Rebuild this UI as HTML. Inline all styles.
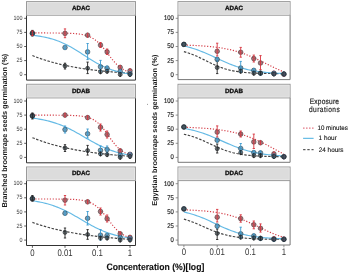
<!DOCTYPE html>
<html><head><meta charset="utf-8"><style>
html,body{margin:0;padding:0;background:#fff;}
body{width:350px;height:273px;overflow:hidden;position:relative;}
svg{position:absolute;left:0;top:0;}
svg text{font-family:"Liberation Sans", sans-serif;text-rendering:geometricPrecision;}
svg{will-change:transform;}
</style></head><body>
<svg width="350" height="273" viewBox="0 0 350 273">
<path d="M26.50,15.20 L26.50,80.10 L135.50,80.10 L135.50,15.20" fill="#ffffff" stroke="#333333" stroke-width="1"/>
<rect x="26.50" y="1.60" width="109.00" height="13.60" fill="#dcdcdc" stroke="#9a9a9a" stroke-width="1"/>
<rect x="27.40" y="2.50" width="107.20" height="11.80" fill="none" stroke="#e8e8e8" stroke-width="0.7"/>
<line x1="24.20" y1="18.30" x2="26.50" y2="18.30" stroke="#333333" stroke-width="0.8"/>
<text transform="translate(22.40,19.94) scale(1.0,1.15)" font-size="5.4" font-weight="normal" fill="#333333" stroke="#333333" stroke-width="0.0" text-anchor="end">100</text>
<line x1="24.20" y1="32.40" x2="26.50" y2="32.40" stroke="#333333" stroke-width="0.8"/>
<text transform="translate(22.40,34.04) scale(1.0,1.15)" font-size="5.4" font-weight="normal" fill="#333333" stroke="#333333" stroke-width="0.0" text-anchor="end">75</text>
<line x1="24.20" y1="46.50" x2="26.50" y2="46.50" stroke="#333333" stroke-width="0.8"/>
<text transform="translate(22.40,48.14) scale(1.0,1.15)" font-size="5.4" font-weight="normal" fill="#333333" stroke="#333333" stroke-width="0.0" text-anchor="end">50</text>
<line x1="24.20" y1="60.60" x2="26.50" y2="60.60" stroke="#333333" stroke-width="0.8"/>
<text transform="translate(22.40,62.24) scale(1.0,1.15)" font-size="5.4" font-weight="normal" fill="#333333" stroke="#333333" stroke-width="0.0" text-anchor="end">25</text>
<line x1="24.20" y1="74.70" x2="26.50" y2="74.70" stroke="#333333" stroke-width="0.8"/>
<text transform="translate(22.40,76.34) scale(1.0,1.15)" font-size="5.4" font-weight="normal" fill="#333333" stroke="#333333" stroke-width="0.0" text-anchor="end">0</text>
<path d="M32.40,55.53 L34.05,56.19 L35.71,56.84 L37.36,57.46 L39.02,58.07 L40.67,58.65 L42.33,59.22 L43.98,59.76 L45.63,60.29 L47.29,60.81 L48.94,61.30 L50.60,61.78 L52.25,62.25 L53.91,62.70 L55.56,63.13 L57.21,63.55 L58.87,63.96 L60.52,64.35 L62.18,64.73 L63.83,65.10 L65.48,65.46 L67.14,65.81 L68.79,66.14 L70.45,66.47 L72.10,66.78 L73.76,67.08 L75.41,67.38 L77.06,67.66 L78.72,67.93 L80.37,68.20 L82.03,68.46 L83.68,68.71 L85.34,68.95 L86.99,69.18 L88.64,69.41 L90.30,69.62 L91.95,69.84 L93.61,70.04 L95.26,70.24 L96.92,70.43 L98.57,70.61 L100.22,70.79 L101.88,70.97 L103.53,71.14 L105.19,71.30 L106.84,71.46 L108.49,71.61 L110.15,71.76 L111.80,71.90 L113.46,72.04 L115.11,72.17 L116.77,72.30 L118.42,72.42 L120.07,72.54 L121.73,72.66 L123.38,72.77 L125.04,72.88 L126.69,72.99 L128.35,73.09 L130.00,73.19" stroke="#444444" stroke-width="1.15" stroke-dasharray="2.5 1.5" fill="none"/>
<path d="M32.40,35.30 L34.05,35.48 L35.71,35.68 L37.36,35.91 L39.02,36.15 L40.67,36.41 L42.33,36.70 L43.98,37.02 L45.63,37.36 L47.29,37.73 L48.94,38.13 L50.60,38.57 L52.25,39.04 L53.91,39.54 L55.56,40.08 L57.21,40.67 L58.87,41.29 L60.52,41.95 L62.18,42.66 L63.83,43.40 L65.48,44.19 L67.14,45.02 L68.79,45.89 L70.45,46.79 L72.10,47.73 L73.76,48.70 L75.41,49.70 L77.06,50.73 L78.72,51.78 L80.37,52.84 L82.03,53.91 L83.68,54.99 L85.34,56.06 L86.99,57.13 L88.64,58.19 L90.30,59.24 L91.95,60.26 L93.61,61.26 L95.26,62.23 L96.92,63.17 L98.57,64.07 L100.22,64.94 L101.88,65.76 L103.53,66.55 L105.19,67.29 L106.84,67.99 L108.49,68.65 L110.15,69.27 L111.80,69.85 L113.46,70.39 L115.11,70.89 L116.77,71.36 L118.42,71.79 L120.07,72.19 L121.73,72.56 L123.38,72.90 L125.04,73.21 L126.69,73.50 L128.35,73.76 L130.00,74.00" stroke="#4aaee0" stroke-width="1.15" stroke-opacity="0.85" fill="none"/>
<path d="M32.40,32.96 L34.05,32.96 L35.71,32.96 L37.36,32.96 L39.02,32.96 L40.67,32.97 L42.33,32.97 L43.98,32.97 L45.63,32.97 L47.29,32.98 L48.94,32.98 L50.60,32.99 L52.25,32.99 L53.91,33.00 L55.56,33.01 L57.21,33.03 L58.87,33.04 L60.52,33.06 L62.18,33.08 L63.83,33.11 L65.48,33.15 L67.14,33.19 L68.79,33.25 L70.45,33.32 L72.10,33.40 L73.76,33.50 L75.41,33.63 L77.06,33.78 L78.72,33.97 L80.37,34.19 L82.03,34.47 L83.68,34.81 L85.34,35.22 L86.99,35.71 L88.64,36.30 L90.30,37.01 L91.95,37.84 L93.61,38.82 L95.26,39.96 L96.92,41.27 L98.57,42.76 L100.22,44.41 L101.88,46.24 L103.53,48.20 L105.19,50.28 L106.84,52.44 L108.49,54.62 L110.15,56.79 L111.80,58.89 L113.46,60.89 L115.11,62.75 L116.77,64.45 L118.42,65.98 L120.07,67.34 L121.73,68.52 L123.38,69.54 L125.04,70.41 L126.69,71.15 L128.35,71.77 L130.00,72.28" stroke="#d4404a" stroke-width="1.2" stroke-dasharray="1.2 1.7" fill="none"/>
<circle cx="32.40" cy="33.00" r="2.3" fill="#925058" fill-opacity="0.8" stroke="#4a3a3c" stroke-width="0.7" stroke-opacity="0.85"/>
<circle cx="65.00" cy="33.40" r="2.3" fill="#925058" fill-opacity="0.8" stroke="#4a3a3c" stroke-width="0.7" stroke-opacity="0.85"/>
<circle cx="87.60" cy="35.20" r="2.3" fill="#925058" fill-opacity="0.8" stroke="#4a3a3c" stroke-width="0.7" stroke-opacity="0.85"/>
<circle cx="100.50" cy="45.10" r="2.3" fill="#925058" fill-opacity="0.8" stroke="#4a3a3c" stroke-width="0.7" stroke-opacity="0.85"/>
<circle cx="107.10" cy="51.90" r="2.3" fill="#925058" fill-opacity="0.8" stroke="#4a3a3c" stroke-width="0.7" stroke-opacity="0.85"/>
<circle cx="120.20" cy="67.40" r="2.3" fill="#925058" fill-opacity="0.8" stroke="#4a3a3c" stroke-width="0.7" stroke-opacity="0.85"/>
<circle cx="130.00" cy="70.80" r="2.3" fill="#925058" fill-opacity="0.8" stroke="#4a3a3c" stroke-width="0.7" stroke-opacity="0.85"/>
<circle cx="32.40" cy="33.60" r="2.3" fill="#4a84a8" fill-opacity="0.8" stroke="#283e4a" stroke-width="0.7" stroke-opacity="0.85"/>
<circle cx="65.00" cy="47.50" r="2.3" fill="#4a84a8" fill-opacity="0.8" stroke="#283e4a" stroke-width="0.7" stroke-opacity="0.85"/>
<circle cx="87.60" cy="51.90" r="2.3" fill="#4a84a8" fill-opacity="0.8" stroke="#283e4a" stroke-width="0.7" stroke-opacity="0.85"/>
<circle cx="100.50" cy="66.80" r="2.3" fill="#4a84a8" fill-opacity="0.8" stroke="#283e4a" stroke-width="0.7" stroke-opacity="0.85"/>
<circle cx="107.10" cy="68.20" r="2.3" fill="#4a84a8" fill-opacity="0.8" stroke="#283e4a" stroke-width="0.7" stroke-opacity="0.85"/>
<circle cx="120.20" cy="71.30" r="2.3" fill="#4a84a8" fill-opacity="0.8" stroke="#283e4a" stroke-width="0.7" stroke-opacity="0.85"/>
<circle cx="130.00" cy="73.50" r="2.3" fill="#4a84a8" fill-opacity="0.8" stroke="#283e4a" stroke-width="0.7" stroke-opacity="0.85"/>
<circle cx="32.40" cy="33.30" r="2.0" fill="#3e4a4e" fill-opacity="0.75" stroke="#1e2428" stroke-width="0.7" stroke-opacity="0.85"/>
<circle cx="65.00" cy="65.90" r="2.0" fill="#3e4a4e" fill-opacity="0.75" stroke="#1e2428" stroke-width="0.7" stroke-opacity="0.85"/>
<circle cx="87.60" cy="68.30" r="2.0" fill="#3e4a4e" fill-opacity="0.75" stroke="#1e2428" stroke-width="0.7" stroke-opacity="0.85"/>
<circle cx="100.50" cy="71.70" r="2.0" fill="#3e4a4e" fill-opacity="0.75" stroke="#1e2428" stroke-width="0.7" stroke-opacity="0.85"/>
<circle cx="107.10" cy="71.30" r="2.0" fill="#3e4a4e" fill-opacity="0.75" stroke="#1e2428" stroke-width="0.7" stroke-opacity="0.85"/>
<circle cx="120.20" cy="74.50" r="2.0" fill="#3e4a4e" fill-opacity="0.75" stroke="#1e2428" stroke-width="0.7" stroke-opacity="0.85"/>
<circle cx="130.00" cy="74.50" r="2.0" fill="#3e4a4e" fill-opacity="0.75" stroke="#1e2428" stroke-width="0.7" stroke-opacity="0.85"/>
<g stroke="#222222" stroke-width="0.9"><line x1="65.00" y1="63.20" x2="65.00" y2="69.00"/><line x1="63.85" y1="63.20" x2="66.15" y2="63.20"/><line x1="63.85" y1="69.00" x2="66.15" y2="69.00"/></g>
<g stroke="#d8343e" stroke-width="0.9"><line x1="65.00" y1="28.90" x2="65.00" y2="37.70"/><line x1="63.85" y1="28.90" x2="66.15" y2="28.90"/><line x1="63.85" y1="37.70" x2="66.15" y2="37.70"/></g>
<g stroke="#3a9ad0" stroke-width="0.9"><line x1="87.60" y1="43.50" x2="87.60" y2="59.60"/><line x1="86.45" y1="43.50" x2="88.75" y2="43.50"/><line x1="86.45" y1="59.60" x2="88.75" y2="59.60"/></g>
<g stroke="#222222" stroke-width="0.9"><line x1="87.60" y1="62.10" x2="87.60" y2="73.60"/><line x1="86.45" y1="62.10" x2="88.75" y2="62.10"/><line x1="86.45" y1="73.60" x2="88.75" y2="73.60"/></g>
<g stroke="#3a9ad0" stroke-width="0.9"><line x1="100.50" y1="60.40" x2="100.50" y2="71.00"/><line x1="99.35" y1="60.40" x2="101.65" y2="60.40"/><line x1="99.35" y1="71.00" x2="101.65" y2="71.00"/></g>
<g stroke="#222222" stroke-width="0.9"><line x1="32.40" y1="30.40" x2="32.40" y2="36.00"/><line x1="31.25" y1="30.40" x2="33.55" y2="30.40"/><line x1="31.25" y1="36.00" x2="33.55" y2="36.00"/></g>
<g stroke="#d8343e" stroke-width="0.9"><line x1="100.50" y1="42.50" x2="100.50" y2="47.50"/><line x1="99.35" y1="42.50" x2="101.65" y2="42.50"/><line x1="99.35" y1="47.50" x2="101.65" y2="47.50"/></g>
<g stroke="#d8343e" stroke-width="0.9"><line x1="107.10" y1="49.00" x2="107.10" y2="54.50"/><line x1="105.95" y1="49.00" x2="108.25" y2="49.00"/><line x1="105.95" y1="54.50" x2="108.25" y2="54.50"/></g>
<g stroke="#d8343e" stroke-width="0.9"><line x1="32.40" y1="31.00" x2="32.40" y2="35.50"/><line x1="31.25" y1="31.00" x2="33.55" y2="31.00"/><line x1="31.25" y1="35.50" x2="33.55" y2="35.50"/></g>
<g stroke="#3a9ad0" stroke-width="0.9"><line x1="107.10" y1="66.00" x2="107.10" y2="70.50"/><line x1="105.95" y1="66.00" x2="108.25" y2="66.00"/><line x1="105.95" y1="70.50" x2="108.25" y2="70.50"/></g>
<g stroke="#d8343e" stroke-width="0.9"><line x1="87.60" y1="33.20" x2="87.60" y2="37.20"/><line x1="87.00" y1="33.20" x2="88.20" y2="33.20"/><line x1="87.00" y1="37.20" x2="88.20" y2="37.20"/></g>
<g stroke="#d8343e" stroke-width="0.9"><line x1="120.20" y1="65.40" x2="120.20" y2="69.40"/><line x1="119.60" y1="65.40" x2="120.80" y2="65.40"/><line x1="119.60" y1="69.40" x2="120.80" y2="69.40"/></g>
<g stroke="#d8343e" stroke-width="0.9"><line x1="130.00" y1="68.80" x2="130.00" y2="72.80"/><line x1="129.40" y1="68.80" x2="130.60" y2="68.80"/><line x1="129.40" y1="72.80" x2="130.60" y2="72.80"/></g>
<g stroke="#3a9ad0" stroke-width="0.9"><line x1="65.00" y1="45.50" x2="65.00" y2="49.50"/><line x1="64.40" y1="45.50" x2="65.60" y2="45.50"/><line x1="64.40" y1="49.50" x2="65.60" y2="49.50"/></g>
<g stroke="#3a9ad0" stroke-width="0.9"><line x1="120.20" y1="69.30" x2="120.20" y2="73.30"/><line x1="119.60" y1="69.30" x2="120.80" y2="69.30"/><line x1="119.60" y1="73.30" x2="120.80" y2="73.30"/></g>
<g stroke="#3a9ad0" stroke-width="0.9"><line x1="130.00" y1="71.50" x2="130.00" y2="75.50"/><line x1="129.40" y1="71.50" x2="130.60" y2="71.50"/><line x1="129.40" y1="75.50" x2="130.60" y2="75.50"/></g>
<g stroke="#222222" stroke-width="0.9"><line x1="100.50" y1="69.70" x2="100.50" y2="73.70"/><line x1="99.90" y1="69.70" x2="101.10" y2="69.70"/><line x1="99.90" y1="73.70" x2="101.10" y2="73.70"/></g>
<g stroke="#222222" stroke-width="0.9"><line x1="107.10" y1="69.30" x2="107.10" y2="73.30"/><line x1="106.50" y1="69.30" x2="107.70" y2="69.30"/><line x1="106.50" y1="73.30" x2="107.70" y2="73.30"/></g>
<g stroke="#222222" stroke-width="0.9"><line x1="120.20" y1="72.50" x2="120.20" y2="76.50"/><line x1="119.60" y1="72.50" x2="120.80" y2="72.50"/><line x1="119.60" y1="76.50" x2="120.80" y2="76.50"/></g>
<g stroke="#222222" stroke-width="0.9"><line x1="130.00" y1="72.50" x2="130.00" y2="76.50"/><line x1="129.40" y1="72.50" x2="130.60" y2="72.50"/><line x1="129.40" y1="76.50" x2="130.60" y2="76.50"/></g>
<text transform="translate(81.00,10.40) scale(0.98,0.95)" font-size="6.4" font-weight="bold" fill="#111" stroke="#111" stroke-width="0.3" text-anchor="middle">ADAC</text>
<path d="M26.50,97.90 L26.50,162.80 L135.50,162.80 L135.50,97.90" fill="#ffffff" stroke="#333333" stroke-width="1"/>
<rect x="26.50" y="84.30" width="109.00" height="13.60" fill="#dcdcdc" stroke="#9a9a9a" stroke-width="1"/>
<rect x="27.40" y="85.20" width="107.20" height="11.80" fill="none" stroke="#e8e8e8" stroke-width="0.7"/>
<line x1="24.20" y1="101.00" x2="26.50" y2="101.00" stroke="#333333" stroke-width="0.8"/>
<text transform="translate(22.40,102.64) scale(1.0,1.15)" font-size="5.4" font-weight="normal" fill="#333333" stroke="#333333" stroke-width="0.0" text-anchor="end">100</text>
<line x1="24.20" y1="115.10" x2="26.50" y2="115.10" stroke="#333333" stroke-width="0.8"/>
<text transform="translate(22.40,116.74) scale(1.0,1.15)" font-size="5.4" font-weight="normal" fill="#333333" stroke="#333333" stroke-width="0.0" text-anchor="end">75</text>
<line x1="24.20" y1="129.20" x2="26.50" y2="129.20" stroke="#333333" stroke-width="0.8"/>
<text transform="translate(22.40,130.84) scale(1.0,1.15)" font-size="5.4" font-weight="normal" fill="#333333" stroke="#333333" stroke-width="0.0" text-anchor="end">50</text>
<line x1="24.20" y1="143.30" x2="26.50" y2="143.30" stroke="#333333" stroke-width="0.8"/>
<text transform="translate(22.40,144.94) scale(1.0,1.15)" font-size="5.4" font-weight="normal" fill="#333333" stroke="#333333" stroke-width="0.0" text-anchor="end">25</text>
<line x1="24.20" y1="157.40" x2="26.50" y2="157.40" stroke="#333333" stroke-width="0.8"/>
<text transform="translate(22.40,159.04) scale(1.0,1.15)" font-size="5.4" font-weight="normal" fill="#333333" stroke="#333333" stroke-width="0.0" text-anchor="end">0</text>
<path d="M32.40,137.67 L34.05,138.34 L35.71,138.98 L37.36,139.60 L39.02,140.21 L40.67,140.80 L42.33,141.37 L43.98,141.92 L45.63,142.46 L47.29,142.98 L48.94,143.49 L50.60,143.98 L52.25,144.45 L53.91,144.92 L55.56,145.36 L57.21,145.80 L58.87,146.22 L60.52,146.63 L62.18,147.03 L63.83,147.41 L65.48,147.79 L67.14,148.15 L68.79,148.50 L70.45,148.84 L72.10,149.18 L73.76,149.50 L75.41,149.81 L77.06,150.11 L78.72,150.41 L80.37,150.69 L82.03,150.97 L83.68,151.23 L85.34,151.50 L86.99,151.75 L88.64,151.99 L90.30,152.23 L91.95,152.46 L93.61,152.68 L95.26,152.90 L96.92,153.11 L98.57,153.32 L100.22,153.52 L101.88,153.71 L103.53,153.89 L105.19,154.08 L106.84,154.25 L108.49,154.42 L110.15,154.59 L111.80,154.75 L113.46,154.90 L115.11,155.05 L116.77,155.20 L118.42,155.34 L120.07,155.48 L121.73,155.62 L123.38,155.75 L125.04,155.87 L126.69,155.99 L128.35,156.11 L130.00,156.23" stroke="#444444" stroke-width="1.15" stroke-dasharray="2.5 1.5" fill="none"/>
<path d="M32.40,118.11 L34.05,118.32 L35.71,118.55 L37.36,118.80 L39.02,119.07 L40.67,119.36 L42.33,119.67 L43.98,120.00 L45.63,120.36 L47.29,120.75 L48.94,121.16 L50.60,121.60 L52.25,122.08 L53.91,122.58 L55.56,123.11 L57.21,123.68 L58.87,124.28 L60.52,124.91 L62.18,125.58 L63.83,126.28 L65.48,127.01 L67.14,127.77 L68.79,128.57 L70.45,129.39 L72.10,130.24 L73.76,131.11 L75.41,132.01 L77.06,132.93 L78.72,133.86 L80.37,134.81 L82.03,135.76 L83.68,136.72 L85.34,137.68 L86.99,138.64 L88.64,139.59 L90.30,140.53 L91.95,141.46 L93.61,142.37 L95.26,143.26 L96.92,144.13 L98.57,144.97 L100.22,145.78 L101.88,146.57 L103.53,147.32 L105.19,148.04 L106.84,148.73 L108.49,149.39 L110.15,150.01 L111.80,150.60 L113.46,151.16 L115.11,151.68 L116.77,152.18 L118.42,152.64 L120.07,153.07 L121.73,153.48 L123.38,153.86 L125.04,154.21 L126.69,154.54 L128.35,154.84 L130.00,155.12" stroke="#4aaee0" stroke-width="1.15" stroke-opacity="0.85" fill="none"/>
<path d="M32.40,115.19 L34.05,115.19 L35.71,115.19 L37.36,115.19 L39.02,115.19 L40.67,115.19 L42.33,115.20 L43.98,115.20 L45.63,115.20 L47.29,115.20 L48.94,115.20 L50.60,115.20 L52.25,115.21 L53.91,115.21 L55.56,115.22 L57.21,115.23 L58.87,115.23 L60.52,115.25 L62.18,115.26 L63.83,115.28 L65.48,115.30 L67.14,115.33 L68.79,115.36 L70.45,115.40 L72.10,115.46 L73.76,115.53 L75.41,115.61 L77.06,115.72 L78.72,115.85 L80.37,116.02 L82.03,116.22 L83.68,116.48 L85.34,116.80 L86.99,117.19 L88.64,117.67 L90.30,118.25 L91.95,118.97 L93.61,119.82 L95.26,120.85 L96.92,122.06 L98.57,123.46 L100.22,125.08 L101.88,126.89 L103.53,128.90 L105.19,131.07 L106.84,133.35 L108.49,135.71 L110.15,138.07 L111.80,140.37 L113.46,142.57 L115.11,144.62 L116.77,146.48 L118.42,148.14 L120.07,149.59 L121.73,150.84 L123.38,151.91 L125.04,152.80 L126.69,153.54 L128.35,154.16 L130.00,154.66" stroke="#d4404a" stroke-width="1.2" stroke-dasharray="1.2 1.7" fill="none"/>
<circle cx="32.40" cy="115.50" r="2.3" fill="#925058" fill-opacity="0.8" stroke="#4a3a3c" stroke-width="0.7" stroke-opacity="0.85"/>
<circle cx="65.00" cy="115.10" r="2.3" fill="#925058" fill-opacity="0.8" stroke="#4a3a3c" stroke-width="0.7" stroke-opacity="0.85"/>
<circle cx="87.60" cy="117.60" r="2.3" fill="#925058" fill-opacity="0.8" stroke="#4a3a3c" stroke-width="0.7" stroke-opacity="0.85"/>
<circle cx="100.50" cy="127.30" r="2.3" fill="#925058" fill-opacity="0.8" stroke="#4a3a3c" stroke-width="0.7" stroke-opacity="0.85"/>
<circle cx="107.10" cy="134.50" r="2.3" fill="#925058" fill-opacity="0.8" stroke="#4a3a3c" stroke-width="0.7" stroke-opacity="0.85"/>
<circle cx="120.20" cy="150.80" r="2.3" fill="#925058" fill-opacity="0.8" stroke="#4a3a3c" stroke-width="0.7" stroke-opacity="0.85"/>
<circle cx="130.00" cy="154.40" r="2.3" fill="#925058" fill-opacity="0.8" stroke="#4a3a3c" stroke-width="0.7" stroke-opacity="0.85"/>
<circle cx="32.40" cy="116.00" r="2.3" fill="#4a84a8" fill-opacity="0.8" stroke="#283e4a" stroke-width="0.7" stroke-opacity="0.85"/>
<circle cx="65.00" cy="129.60" r="2.3" fill="#4a84a8" fill-opacity="0.8" stroke="#283e4a" stroke-width="0.7" stroke-opacity="0.85"/>
<circle cx="87.60" cy="133.80" r="2.3" fill="#4a84a8" fill-opacity="0.8" stroke="#283e4a" stroke-width="0.7" stroke-opacity="0.85"/>
<circle cx="100.50" cy="150.30" r="2.3" fill="#4a84a8" fill-opacity="0.8" stroke="#283e4a" stroke-width="0.7" stroke-opacity="0.85"/>
<circle cx="107.10" cy="149.50" r="2.3" fill="#4a84a8" fill-opacity="0.8" stroke="#283e4a" stroke-width="0.7" stroke-opacity="0.85"/>
<circle cx="120.20" cy="155.10" r="2.3" fill="#4a84a8" fill-opacity="0.8" stroke="#283e4a" stroke-width="0.7" stroke-opacity="0.85"/>
<circle cx="130.00" cy="154.60" r="2.3" fill="#4a84a8" fill-opacity="0.8" stroke="#283e4a" stroke-width="0.7" stroke-opacity="0.85"/>
<circle cx="32.40" cy="116.00" r="2.0" fill="#3e4a4e" fill-opacity="0.75" stroke="#1e2428" stroke-width="0.7" stroke-opacity="0.85"/>
<circle cx="65.00" cy="148.00" r="2.0" fill="#3e4a4e" fill-opacity="0.75" stroke="#1e2428" stroke-width="0.7" stroke-opacity="0.85"/>
<circle cx="87.60" cy="150.50" r="2.0" fill="#3e4a4e" fill-opacity="0.75" stroke="#1e2428" stroke-width="0.7" stroke-opacity="0.85"/>
<circle cx="100.50" cy="153.90" r="2.0" fill="#3e4a4e" fill-opacity="0.75" stroke="#1e2428" stroke-width="0.7" stroke-opacity="0.85"/>
<circle cx="107.10" cy="154.60" r="2.0" fill="#3e4a4e" fill-opacity="0.75" stroke="#1e2428" stroke-width="0.7" stroke-opacity="0.85"/>
<circle cx="120.20" cy="157.30" r="2.0" fill="#3e4a4e" fill-opacity="0.75" stroke="#1e2428" stroke-width="0.7" stroke-opacity="0.85"/>
<circle cx="130.00" cy="156.50" r="2.0" fill="#3e4a4e" fill-opacity="0.75" stroke="#1e2428" stroke-width="0.7" stroke-opacity="0.85"/>
<g stroke="#222222" stroke-width="0.9"><line x1="65.00" y1="144.70" x2="65.00" y2="151.50"/><line x1="63.85" y1="144.70" x2="66.15" y2="144.70"/><line x1="63.85" y1="151.50" x2="66.15" y2="151.50"/></g>
<g stroke="#3a9ad0" stroke-width="0.9"><line x1="65.00" y1="126.00" x2="65.00" y2="133.00"/><line x1="63.85" y1="126.00" x2="66.15" y2="126.00"/><line x1="63.85" y1="133.00" x2="66.15" y2="133.00"/></g>
<g stroke="#3a9ad0" stroke-width="0.9"><line x1="87.60" y1="129.00" x2="87.60" y2="138.00"/><line x1="86.45" y1="129.00" x2="88.75" y2="129.00"/><line x1="86.45" y1="138.00" x2="88.75" y2="138.00"/></g>
<g stroke="#222222" stroke-width="0.9"><line x1="87.60" y1="145.40" x2="87.60" y2="155.10"/><line x1="86.45" y1="145.40" x2="88.75" y2="145.40"/><line x1="86.45" y1="155.10" x2="88.75" y2="155.10"/></g>
<g stroke="#3a9ad0" stroke-width="0.9"><line x1="100.50" y1="146.00" x2="100.50" y2="154.00"/><line x1="99.35" y1="146.00" x2="101.65" y2="146.00"/><line x1="99.35" y1="154.00" x2="101.65" y2="154.00"/></g>
<g stroke="#3a9ad0" stroke-width="0.9"><line x1="107.10" y1="146.00" x2="107.10" y2="153.00"/><line x1="105.95" y1="146.00" x2="108.25" y2="146.00"/><line x1="105.95" y1="153.00" x2="108.25" y2="153.00"/></g>
<g stroke="#d8343e" stroke-width="0.9"><line x1="100.50" y1="124.00" x2="100.50" y2="131.00"/><line x1="99.35" y1="124.00" x2="101.65" y2="124.00"/><line x1="99.35" y1="131.00" x2="101.65" y2="131.00"/></g>
<g stroke="#d8343e" stroke-width="0.9"><line x1="107.10" y1="131.00" x2="107.10" y2="138.00"/><line x1="105.95" y1="131.00" x2="108.25" y2="131.00"/><line x1="105.95" y1="138.00" x2="108.25" y2="138.00"/></g>
<g stroke="#222222" stroke-width="0.9"><line x1="32.40" y1="113.00" x2="32.40" y2="119.00"/><line x1="31.25" y1="113.00" x2="33.55" y2="113.00"/><line x1="31.25" y1="119.00" x2="33.55" y2="119.00"/></g>
<g stroke="#d8343e" stroke-width="0.9"><line x1="65.00" y1="113.10" x2="65.00" y2="117.10"/><line x1="64.40" y1="113.10" x2="65.60" y2="113.10"/><line x1="64.40" y1="117.10" x2="65.60" y2="117.10"/></g>
<g stroke="#d8343e" stroke-width="0.9"><line x1="87.60" y1="115.60" x2="87.60" y2="119.60"/><line x1="87.00" y1="115.60" x2="88.20" y2="115.60"/><line x1="87.00" y1="119.60" x2="88.20" y2="119.60"/></g>
<g stroke="#d8343e" stroke-width="0.9"><line x1="120.20" y1="148.80" x2="120.20" y2="152.80"/><line x1="119.60" y1="148.80" x2="120.80" y2="148.80"/><line x1="119.60" y1="152.80" x2="120.80" y2="152.80"/></g>
<g stroke="#d8343e" stroke-width="0.9"><line x1="130.00" y1="152.40" x2="130.00" y2="156.40"/><line x1="129.40" y1="152.40" x2="130.60" y2="152.40"/><line x1="129.40" y1="156.40" x2="130.60" y2="156.40"/></g>
<g stroke="#3a9ad0" stroke-width="0.9"><line x1="120.20" y1="153.10" x2="120.20" y2="157.10"/><line x1="119.60" y1="153.10" x2="120.80" y2="153.10"/><line x1="119.60" y1="157.10" x2="120.80" y2="157.10"/></g>
<g stroke="#3a9ad0" stroke-width="0.9"><line x1="130.00" y1="152.60" x2="130.00" y2="156.60"/><line x1="129.40" y1="152.60" x2="130.60" y2="152.60"/><line x1="129.40" y1="156.60" x2="130.60" y2="156.60"/></g>
<g stroke="#222222" stroke-width="0.9"><line x1="100.50" y1="151.90" x2="100.50" y2="155.90"/><line x1="99.90" y1="151.90" x2="101.10" y2="151.90"/><line x1="99.90" y1="155.90" x2="101.10" y2="155.90"/></g>
<g stroke="#222222" stroke-width="0.9"><line x1="107.10" y1="152.60" x2="107.10" y2="156.60"/><line x1="106.50" y1="152.60" x2="107.70" y2="152.60"/><line x1="106.50" y1="156.60" x2="107.70" y2="156.60"/></g>
<g stroke="#222222" stroke-width="0.9"><line x1="120.20" y1="155.30" x2="120.20" y2="159.30"/><line x1="119.60" y1="155.30" x2="120.80" y2="155.30"/><line x1="119.60" y1="159.30" x2="120.80" y2="159.30"/></g>
<g stroke="#222222" stroke-width="0.9"><line x1="130.00" y1="154.50" x2="130.00" y2="158.50"/><line x1="129.40" y1="154.50" x2="130.60" y2="154.50"/><line x1="129.40" y1="158.50" x2="130.60" y2="158.50"/></g>
<text transform="translate(81.00,92.80) scale(0.98,0.95)" font-size="6.4" font-weight="bold" fill="#111" stroke="#111" stroke-width="0.3" text-anchor="middle">DDAB</text>
<path d="M26.50,180.60 L26.50,245.50 L135.50,245.50 L135.50,180.60" fill="#ffffff" stroke="#333333" stroke-width="1"/>
<rect x="26.50" y="167.00" width="109.00" height="13.60" fill="#dcdcdc" stroke="#9a9a9a" stroke-width="1"/>
<rect x="27.40" y="167.90" width="107.20" height="11.80" fill="none" stroke="#e8e8e8" stroke-width="0.7"/>
<line x1="24.20" y1="183.70" x2="26.50" y2="183.70" stroke="#333333" stroke-width="0.8"/>
<text transform="translate(22.40,185.34) scale(1.0,1.15)" font-size="5.4" font-weight="normal" fill="#333333" stroke="#333333" stroke-width="0.0" text-anchor="end">100</text>
<line x1="24.20" y1="197.80" x2="26.50" y2="197.80" stroke="#333333" stroke-width="0.8"/>
<text transform="translate(22.40,199.44) scale(1.0,1.15)" font-size="5.4" font-weight="normal" fill="#333333" stroke="#333333" stroke-width="0.0" text-anchor="end">75</text>
<line x1="24.20" y1="211.90" x2="26.50" y2="211.90" stroke="#333333" stroke-width="0.8"/>
<text transform="translate(22.40,213.54) scale(1.0,1.15)" font-size="5.4" font-weight="normal" fill="#333333" stroke="#333333" stroke-width="0.0" text-anchor="end">50</text>
<line x1="24.20" y1="226.00" x2="26.50" y2="226.00" stroke="#333333" stroke-width="0.8"/>
<text transform="translate(22.40,227.64) scale(1.0,1.15)" font-size="5.4" font-weight="normal" fill="#333333" stroke="#333333" stroke-width="0.0" text-anchor="end">25</text>
<line x1="24.20" y1="240.10" x2="26.50" y2="240.10" stroke="#333333" stroke-width="0.8"/>
<text transform="translate(22.40,241.74) scale(1.0,1.15)" font-size="5.4" font-weight="normal" fill="#333333" stroke="#333333" stroke-width="0.0" text-anchor="end">0</text>
<path d="M32.40,222.40 L34.05,222.99 L35.71,223.56 L37.36,224.11 L39.02,224.65 L40.67,225.17 L42.33,225.68 L43.98,226.17 L45.63,226.65 L47.29,227.12 L48.94,227.57 L50.60,228.01 L52.25,228.44 L53.91,228.85 L55.56,229.25 L57.21,229.65 L58.87,230.03 L60.52,230.40 L62.18,230.76 L63.83,231.11 L65.48,231.45 L67.14,231.78 L68.79,232.10 L70.45,232.41 L72.10,232.71 L73.76,233.01 L75.41,233.29 L77.06,233.57 L78.72,233.84 L80.37,234.10 L82.03,234.36 L83.68,234.61 L85.34,234.85 L86.99,235.08 L88.64,235.31 L90.30,235.53 L91.95,235.74 L93.61,235.95 L95.26,236.15 L96.92,236.35 L98.57,236.54 L100.22,236.73 L101.88,236.91 L103.53,237.08 L105.19,237.25 L106.84,237.42 L108.49,237.58 L110.15,237.74 L111.80,237.89 L113.46,238.04 L115.11,238.18 L116.77,238.32 L118.42,238.45 L120.07,238.59 L121.73,238.71 L123.38,238.84 L125.04,238.96 L126.69,239.08 L128.35,239.19 L130.00,239.30" stroke="#444444" stroke-width="1.15" stroke-dasharray="2.5 1.5" fill="none"/>
<path d="M32.40,200.77 L34.05,201.01 L35.71,201.28 L37.36,201.56 L39.02,201.87 L40.67,202.20 L42.33,202.56 L43.98,202.94 L45.63,203.35 L47.29,203.79 L48.94,204.26 L50.60,204.76 L52.25,205.30 L53.91,205.87 L55.56,206.47 L57.21,207.10 L58.87,207.77 L60.52,208.48 L62.18,209.21 L63.83,209.98 L65.48,210.78 L67.14,211.62 L68.79,212.48 L70.45,213.36 L72.10,214.27 L73.76,215.20 L75.41,216.14 L77.06,217.10 L78.72,218.07 L80.37,219.04 L82.03,220.02 L83.68,220.99 L85.34,221.95 L86.99,222.91 L88.64,223.85 L90.30,224.77 L91.95,225.67 L93.61,226.55 L95.26,227.40 L96.92,228.22 L98.57,229.01 L100.22,229.77 L101.88,230.50 L103.53,231.19 L105.19,231.85 L106.84,232.47 L108.49,233.06 L110.15,233.62 L111.80,234.14 L113.46,234.64 L115.11,235.10 L116.77,235.53 L118.42,235.93 L120.07,236.30 L121.73,236.65 L123.38,236.97 L125.04,237.27 L126.69,237.55 L128.35,237.81 L130.00,238.05" stroke="#4aaee0" stroke-width="1.15" stroke-opacity="0.85" fill="none"/>
<path d="M32.40,198.98 L34.05,198.98 L35.71,198.98 L37.36,198.98 L39.02,198.98 L40.67,198.98 L42.33,198.98 L43.98,198.99 L45.63,198.99 L47.29,198.99 L48.94,198.99 L50.60,199.00 L52.25,199.00 L53.91,199.01 L55.56,199.02 L57.21,199.03 L58.87,199.04 L60.52,199.06 L62.18,199.08 L63.83,199.11 L65.48,199.14 L67.14,199.17 L68.79,199.22 L70.45,199.28 L72.10,199.35 L73.76,199.44 L75.41,199.55 L77.06,199.69 L78.72,199.86 L80.37,200.06 L82.03,200.31 L83.68,200.62 L85.34,200.99 L86.99,201.45 L88.64,201.99 L90.30,202.65 L91.95,203.44 L93.61,204.36 L95.26,205.45 L96.92,206.70 L98.57,208.14 L100.22,209.75 L101.88,211.54 L103.53,213.48 L105.19,215.55 L106.84,217.70 L108.49,219.89 L110.15,222.06 L111.80,224.18 L113.46,226.20 L115.11,228.08 L116.77,229.79 L118.42,231.33 L120.07,232.69 L121.73,233.88 L123.38,234.89 L125.04,235.76 L126.69,236.49 L128.35,237.09 L130.00,237.60" stroke="#d4404a" stroke-width="1.2" stroke-dasharray="1.2 1.7" fill="none"/>
<circle cx="32.40" cy="199.00" r="2.3" fill="#925058" fill-opacity="0.8" stroke="#4a3a3c" stroke-width="0.7" stroke-opacity="0.85"/>
<circle cx="65.00" cy="200.20" r="2.3" fill="#925058" fill-opacity="0.8" stroke="#4a3a3c" stroke-width="0.7" stroke-opacity="0.85"/>
<circle cx="87.60" cy="201.80" r="2.3" fill="#925058" fill-opacity="0.8" stroke="#4a3a3c" stroke-width="0.7" stroke-opacity="0.85"/>
<circle cx="100.50" cy="211.50" r="2.3" fill="#925058" fill-opacity="0.8" stroke="#4a3a3c" stroke-width="0.7" stroke-opacity="0.85"/>
<circle cx="107.10" cy="218.70" r="2.3" fill="#925058" fill-opacity="0.8" stroke="#4a3a3c" stroke-width="0.7" stroke-opacity="0.85"/>
<circle cx="120.20" cy="233.80" r="2.3" fill="#925058" fill-opacity="0.8" stroke="#4a3a3c" stroke-width="0.7" stroke-opacity="0.85"/>
<circle cx="130.00" cy="237.40" r="2.3" fill="#925058" fill-opacity="0.8" stroke="#4a3a3c" stroke-width="0.7" stroke-opacity="0.85"/>
<circle cx="32.40" cy="198.50" r="2.3" fill="#4a84a8" fill-opacity="0.8" stroke="#283e4a" stroke-width="0.7" stroke-opacity="0.85"/>
<circle cx="65.00" cy="213.30" r="2.3" fill="#4a84a8" fill-opacity="0.8" stroke="#283e4a" stroke-width="0.7" stroke-opacity="0.85"/>
<circle cx="87.60" cy="218.30" r="2.3" fill="#4a84a8" fill-opacity="0.8" stroke="#283e4a" stroke-width="0.7" stroke-opacity="0.85"/>
<circle cx="100.50" cy="235.20" r="2.3" fill="#4a84a8" fill-opacity="0.8" stroke="#283e4a" stroke-width="0.7" stroke-opacity="0.85"/>
<circle cx="107.10" cy="235.50" r="2.3" fill="#4a84a8" fill-opacity="0.8" stroke="#283e4a" stroke-width="0.7" stroke-opacity="0.85"/>
<circle cx="120.20" cy="237.60" r="2.3" fill="#4a84a8" fill-opacity="0.8" stroke="#283e4a" stroke-width="0.7" stroke-opacity="0.85"/>
<circle cx="130.00" cy="238.50" r="2.3" fill="#4a84a8" fill-opacity="0.8" stroke="#283e4a" stroke-width="0.7" stroke-opacity="0.85"/>
<circle cx="32.40" cy="198.50" r="2.0" fill="#3e4a4e" fill-opacity="0.75" stroke="#1e2428" stroke-width="0.7" stroke-opacity="0.85"/>
<circle cx="65.00" cy="232.40" r="2.0" fill="#3e4a4e" fill-opacity="0.75" stroke="#1e2428" stroke-width="0.7" stroke-opacity="0.85"/>
<circle cx="87.60" cy="234.50" r="2.0" fill="#3e4a4e" fill-opacity="0.75" stroke="#1e2428" stroke-width="0.7" stroke-opacity="0.85"/>
<circle cx="100.50" cy="238.10" r="2.0" fill="#3e4a4e" fill-opacity="0.75" stroke="#1e2428" stroke-width="0.7" stroke-opacity="0.85"/>
<circle cx="107.10" cy="238.00" r="2.0" fill="#3e4a4e" fill-opacity="0.75" stroke="#1e2428" stroke-width="0.7" stroke-opacity="0.85"/>
<circle cx="120.20" cy="240.00" r="2.0" fill="#3e4a4e" fill-opacity="0.75" stroke="#1e2428" stroke-width="0.7" stroke-opacity="0.85"/>
<circle cx="130.00" cy="240.00" r="2.0" fill="#3e4a4e" fill-opacity="0.75" stroke="#1e2428" stroke-width="0.7" stroke-opacity="0.85"/>
<g stroke="#d8343e" stroke-width="0.9"><line x1="65.00" y1="195.50" x2="65.00" y2="205.00"/><line x1="63.85" y1="195.50" x2="66.15" y2="195.50"/><line x1="63.85" y1="205.00" x2="66.15" y2="205.00"/></g>
<g stroke="#222222" stroke-width="0.9"><line x1="65.00" y1="228.00" x2="65.00" y2="238.00"/><line x1="63.85" y1="228.00" x2="66.15" y2="228.00"/><line x1="63.85" y1="238.00" x2="66.15" y2="238.00"/></g>
<g stroke="#3a9ad0" stroke-width="0.9"><line x1="87.60" y1="211.50" x2="87.60" y2="225.00"/><line x1="86.45" y1="211.50" x2="88.75" y2="211.50"/><line x1="86.45" y1="225.00" x2="88.75" y2="225.00"/></g>
<g stroke="#222222" stroke-width="0.9"><line x1="87.60" y1="229.60" x2="87.60" y2="239.30"/><line x1="86.45" y1="229.60" x2="88.75" y2="229.60"/><line x1="86.45" y1="239.30" x2="88.75" y2="239.30"/></g>
<g stroke="#3a9ad0" stroke-width="0.9"><line x1="100.50" y1="229.60" x2="100.50" y2="240.00"/><line x1="99.35" y1="229.60" x2="101.65" y2="229.60"/><line x1="99.35" y1="240.00" x2="101.65" y2="240.00"/></g>
<g stroke="#d8343e" stroke-width="0.9"><line x1="100.50" y1="208.00" x2="100.50" y2="215.00"/><line x1="99.35" y1="208.00" x2="101.65" y2="208.00"/><line x1="99.35" y1="215.00" x2="101.65" y2="215.00"/></g>
<g stroke="#d8343e" stroke-width="0.9"><line x1="107.10" y1="215.00" x2="107.10" y2="222.00"/><line x1="105.95" y1="215.00" x2="108.25" y2="215.00"/><line x1="105.95" y1="222.00" x2="108.25" y2="222.00"/></g>
<g stroke="#222222" stroke-width="0.9"><line x1="32.40" y1="195.50" x2="32.40" y2="201.00"/><line x1="31.25" y1="195.50" x2="33.55" y2="195.50"/><line x1="31.25" y1="201.00" x2="33.55" y2="201.00"/></g>
<g stroke="#d8343e" stroke-width="0.9"><line x1="87.60" y1="199.80" x2="87.60" y2="203.80"/><line x1="87.00" y1="199.80" x2="88.20" y2="199.80"/><line x1="87.00" y1="203.80" x2="88.20" y2="203.80"/></g>
<g stroke="#d8343e" stroke-width="0.9"><line x1="120.20" y1="231.80" x2="120.20" y2="235.80"/><line x1="119.60" y1="231.80" x2="120.80" y2="231.80"/><line x1="119.60" y1="235.80" x2="120.80" y2="235.80"/></g>
<g stroke="#d8343e" stroke-width="0.9"><line x1="130.00" y1="235.40" x2="130.00" y2="239.40"/><line x1="129.40" y1="235.40" x2="130.60" y2="235.40"/><line x1="129.40" y1="239.40" x2="130.60" y2="239.40"/></g>
<g stroke="#3a9ad0" stroke-width="0.9"><line x1="65.00" y1="211.30" x2="65.00" y2="215.30"/><line x1="64.40" y1="211.30" x2="65.60" y2="211.30"/><line x1="64.40" y1="215.30" x2="65.60" y2="215.30"/></g>
<g stroke="#3a9ad0" stroke-width="0.9"><line x1="107.10" y1="233.50" x2="107.10" y2="237.50"/><line x1="106.50" y1="233.50" x2="107.70" y2="233.50"/><line x1="106.50" y1="237.50" x2="107.70" y2="237.50"/></g>
<g stroke="#3a9ad0" stroke-width="0.9"><line x1="120.20" y1="235.60" x2="120.20" y2="239.60"/><line x1="119.60" y1="235.60" x2="120.80" y2="235.60"/><line x1="119.60" y1="239.60" x2="120.80" y2="239.60"/></g>
<g stroke="#3a9ad0" stroke-width="0.9"><line x1="130.00" y1="236.50" x2="130.00" y2="240.50"/><line x1="129.40" y1="236.50" x2="130.60" y2="236.50"/><line x1="129.40" y1="240.50" x2="130.60" y2="240.50"/></g>
<g stroke="#222222" stroke-width="0.9"><line x1="100.50" y1="236.10" x2="100.50" y2="240.10"/><line x1="99.90" y1="236.10" x2="101.10" y2="236.10"/><line x1="99.90" y1="240.10" x2="101.10" y2="240.10"/></g>
<g stroke="#222222" stroke-width="0.9"><line x1="107.10" y1="236.00" x2="107.10" y2="240.00"/><line x1="106.50" y1="236.00" x2="107.70" y2="236.00"/><line x1="106.50" y1="240.00" x2="107.70" y2="240.00"/></g>
<g stroke="#222222" stroke-width="0.9"><line x1="120.20" y1="238.00" x2="120.20" y2="242.00"/><line x1="119.60" y1="238.00" x2="120.80" y2="238.00"/><line x1="119.60" y1="242.00" x2="120.80" y2="242.00"/></g>
<g stroke="#222222" stroke-width="0.9"><line x1="130.00" y1="238.00" x2="130.00" y2="242.00"/><line x1="129.40" y1="238.00" x2="130.60" y2="238.00"/><line x1="129.40" y1="242.00" x2="130.60" y2="242.00"/></g>
<text transform="translate(81.00,175.20) scale(0.98,0.95)" font-size="6.4" font-weight="bold" fill="#111" stroke="#111" stroke-width="0.3" text-anchor="middle">DDAC</text>
<path d="M178.00,15.20 L178.00,79.60 L290.10,79.60 L290.10,15.20" fill="#ffffff" stroke="#777777" stroke-width="1"/>
<rect x="178.00" y="1.60" width="112.10" height="13.60" fill="#dcdcdc" stroke="#9a9a9a" stroke-width="1"/>
<rect x="178.90" y="2.50" width="110.30" height="11.80" fill="none" stroke="#e8e8e8" stroke-width="0.7"/>
<line x1="175.70" y1="18.30" x2="178.00" y2="18.30" stroke="#777777" stroke-width="0.8"/>
<text transform="translate(173.90,20.20) scale(0.97,1.12)" font-size="6.1" font-weight="normal" fill="#222222" stroke="#222222" stroke-width="0.15" text-anchor="end">100</text>
<line x1="175.70" y1="32.40" x2="178.00" y2="32.40" stroke="#777777" stroke-width="0.8"/>
<text transform="translate(173.90,34.30) scale(0.97,1.12)" font-size="6.1" font-weight="normal" fill="#222222" stroke="#222222" stroke-width="0.15" text-anchor="end">75</text>
<line x1="175.70" y1="46.50" x2="178.00" y2="46.50" stroke="#777777" stroke-width="0.8"/>
<text transform="translate(173.90,48.40) scale(0.97,1.12)" font-size="6.1" font-weight="normal" fill="#222222" stroke="#222222" stroke-width="0.15" text-anchor="end">50</text>
<line x1="175.70" y1="60.60" x2="178.00" y2="60.60" stroke="#777777" stroke-width="0.8"/>
<text transform="translate(173.90,62.50) scale(0.97,1.12)" font-size="6.1" font-weight="normal" fill="#222222" stroke="#222222" stroke-width="0.15" text-anchor="end">25</text>
<line x1="175.70" y1="74.70" x2="178.00" y2="74.70" stroke="#777777" stroke-width="0.8"/>
<text transform="translate(173.90,76.60) scale(0.97,1.12)" font-size="6.1" font-weight="normal" fill="#222222" stroke="#222222" stroke-width="0.15" text-anchor="end">0</text>
<path d="M183.90,51.64 L185.59,52.11 L187.29,52.63 L188.98,53.19 L190.68,53.79 L192.37,54.43 L194.07,55.11 L195.76,55.83 L197.46,56.59 L199.15,57.37 L200.85,58.19 L202.54,59.02 L204.24,59.86 L205.93,60.71 L207.63,61.56 L209.32,62.40 L211.02,63.22 L212.71,64.02 L214.41,64.80 L216.10,65.55 L217.80,66.26 L219.49,66.93 L221.19,67.56 L222.88,68.15 L224.58,68.69 L226.27,69.20 L227.97,69.66 L229.66,70.09 L231.36,70.47 L233.05,70.82 L234.75,71.14 L236.44,71.42 L238.14,71.68 L239.83,71.91 L241.53,72.12 L243.22,72.30 L244.92,72.46 L246.61,72.61 L248.31,72.74 L250.00,72.85 L251.70,72.95 L253.39,73.04 L255.09,73.12 L256.78,73.19 L258.48,73.25 L260.17,73.31 L261.87,73.36 L263.56,73.40 L265.26,73.44 L266.95,73.47 L268.65,73.50 L270.34,73.52 L272.04,73.55 L273.73,73.57 L275.43,73.58 L277.12,73.60 L278.82,73.61 L280.51,73.62 L282.21,73.63 L283.90,73.64" stroke="#444444" stroke-width="1.15" stroke-dasharray="2.5 1.5" fill="none"/>
<path d="M183.90,45.91 L185.59,46.31 L187.29,46.73 L188.98,47.19 L190.68,47.67 L192.37,48.18 L194.07,48.72 L195.76,49.29 L197.46,49.89 L199.15,50.51 L200.85,51.17 L202.54,51.85 L204.24,52.55 L205.93,53.27 L207.63,54.02 L209.32,54.78 L211.02,55.55 L212.71,56.34 L214.41,57.13 L216.10,57.92 L217.80,58.71 L219.49,59.50 L221.19,60.28 L222.88,61.05 L224.58,61.80 L226.27,62.54 L227.97,63.25 L229.66,63.94 L231.36,64.61 L233.05,65.25 L234.75,65.86 L236.44,66.45 L238.14,67.00 L239.83,67.53 L241.53,68.03 L243.22,68.49 L244.92,68.93 L246.61,69.34 L248.31,69.73 L250.00,70.08 L251.70,70.42 L253.39,70.72 L255.09,71.01 L256.78,71.28 L258.48,71.52 L260.17,71.74 L261.87,71.95 L263.56,72.14 L265.26,72.32 L266.95,72.48 L268.65,72.63 L270.34,72.76 L272.04,72.89 L273.73,73.00 L275.43,73.10 L277.12,73.20 L278.82,73.28 L280.51,73.36 L282.21,73.43 L283.90,73.50" stroke="#4aaee0" stroke-width="1.15" stroke-opacity="0.85" fill="none"/>
<path d="M183.90,45.06 L185.59,45.11 L187.29,45.16 L188.98,45.22 L190.68,45.28 L192.37,45.35 L194.07,45.43 L195.76,45.51 L197.46,45.60 L199.15,45.70 L200.85,45.80 L202.54,45.91 L204.24,46.04 L205.93,46.17 L207.63,46.31 L209.32,46.47 L211.02,46.64 L212.71,46.82 L214.41,47.02 L216.10,47.23 L217.80,47.46 L219.49,47.70 L221.19,47.96 L222.88,48.25 L224.58,48.55 L226.27,48.88 L227.97,49.22 L229.66,49.59 L231.36,49.99 L233.05,50.41 L234.75,50.86 L236.44,51.33 L238.14,51.83 L239.83,52.36 L241.53,52.92 L243.22,53.50 L244.92,54.11 L246.61,54.75 L248.31,55.42 L250.00,56.11 L251.70,56.83 L253.39,57.57 L255.09,58.33 L256.78,59.11 L258.48,59.90 L260.17,60.71 L261.87,61.54 L263.56,62.37 L265.26,63.21 L266.95,64.05 L268.65,64.89 L270.34,65.72 L272.04,66.55 L273.73,67.37 L275.43,68.18 L277.12,68.97 L278.82,69.75 L280.51,70.50 L282.21,71.24 L283.90,71.95" stroke="#d4404a" stroke-width="1.2" stroke-dasharray="1.2 1.7" fill="none"/>
<circle cx="183.90" cy="44.40" r="2.3" fill="#925058" fill-opacity="0.8" stroke="#4a3a3c" stroke-width="0.7" stroke-opacity="0.85"/>
<circle cx="217.20" cy="51.30" r="2.3" fill="#925058" fill-opacity="0.8" stroke="#4a3a3c" stroke-width="0.7" stroke-opacity="0.85"/>
<circle cx="240.70" cy="52.30" r="2.3" fill="#925058" fill-opacity="0.8" stroke="#4a3a3c" stroke-width="0.7" stroke-opacity="0.85"/>
<circle cx="253.80" cy="58.60" r="2.3" fill="#925058" fill-opacity="0.8" stroke="#4a3a3c" stroke-width="0.7" stroke-opacity="0.85"/>
<circle cx="260.50" cy="63.00" r="2.3" fill="#925058" fill-opacity="0.8" stroke="#4a3a3c" stroke-width="0.7" stroke-opacity="0.85"/>
<circle cx="273.90" cy="73.20" r="2.3" fill="#925058" fill-opacity="0.8" stroke="#4a3a3c" stroke-width="0.7" stroke-opacity="0.85"/>
<circle cx="283.90" cy="74.20" r="2.3" fill="#925058" fill-opacity="0.8" stroke="#4a3a3c" stroke-width="0.7" stroke-opacity="0.85"/>
<circle cx="183.90" cy="44.40" r="2.3" fill="#4a84a8" fill-opacity="0.8" stroke="#283e4a" stroke-width="0.7" stroke-opacity="0.85"/>
<circle cx="217.20" cy="59.40" r="2.3" fill="#4a84a8" fill-opacity="0.8" stroke="#283e4a" stroke-width="0.7" stroke-opacity="0.85"/>
<circle cx="240.70" cy="68.00" r="2.3" fill="#4a84a8" fill-opacity="0.8" stroke="#283e4a" stroke-width="0.7" stroke-opacity="0.85"/>
<circle cx="253.80" cy="70.40" r="2.3" fill="#4a84a8" fill-opacity="0.8" stroke="#283e4a" stroke-width="0.7" stroke-opacity="0.85"/>
<circle cx="260.50" cy="73.20" r="2.3" fill="#4a84a8" fill-opacity="0.8" stroke="#283e4a" stroke-width="0.7" stroke-opacity="0.85"/>
<circle cx="273.90" cy="73.50" r="2.3" fill="#4a84a8" fill-opacity="0.8" stroke="#283e4a" stroke-width="0.7" stroke-opacity="0.85"/>
<circle cx="283.90" cy="74.00" r="2.3" fill="#4a84a8" fill-opacity="0.8" stroke="#283e4a" stroke-width="0.7" stroke-opacity="0.85"/>
<circle cx="183.90" cy="44.40" r="2.0" fill="#3e4a4e" fill-opacity="0.75" stroke="#1e2428" stroke-width="0.7" stroke-opacity="0.85"/>
<circle cx="217.20" cy="67.60" r="2.0" fill="#3e4a4e" fill-opacity="0.75" stroke="#1e2428" stroke-width="0.7" stroke-opacity="0.85"/>
<circle cx="240.70" cy="71.20" r="2.0" fill="#3e4a4e" fill-opacity="0.75" stroke="#1e2428" stroke-width="0.7" stroke-opacity="0.85"/>
<circle cx="253.80" cy="73.20" r="2.0" fill="#3e4a4e" fill-opacity="0.75" stroke="#1e2428" stroke-width="0.7" stroke-opacity="0.85"/>
<circle cx="260.50" cy="73.20" r="2.0" fill="#3e4a4e" fill-opacity="0.75" stroke="#1e2428" stroke-width="0.7" stroke-opacity="0.85"/>
<circle cx="273.90" cy="74.00" r="2.0" fill="#3e4a4e" fill-opacity="0.75" stroke="#1e2428" stroke-width="0.7" stroke-opacity="0.85"/>
<circle cx="283.90" cy="74.00" r="2.0" fill="#3e4a4e" fill-opacity="0.75" stroke="#1e2428" stroke-width="0.7" stroke-opacity="0.85"/>
<g stroke="#d8343e" stroke-width="0.9"><line x1="217.20" y1="43.20" x2="217.20" y2="56.00"/><line x1="216.05" y1="43.20" x2="218.35" y2="43.20"/><line x1="216.05" y1="56.00" x2="218.35" y2="56.00"/></g>
<g stroke="#222222" stroke-width="0.9"><line x1="217.20" y1="61.00" x2="217.20" y2="73.60"/><line x1="216.05" y1="61.00" x2="218.35" y2="61.00"/><line x1="216.05" y1="73.60" x2="218.35" y2="73.60"/></g>
<g stroke="#d8343e" stroke-width="0.9"><line x1="240.70" y1="47.40" x2="240.70" y2="57.20"/><line x1="239.55" y1="47.40" x2="241.85" y2="47.40"/><line x1="239.55" y1="57.20" x2="241.85" y2="57.20"/></g>
<g stroke="#d8343e" stroke-width="0.9"><line x1="253.80" y1="55.10" x2="253.80" y2="62.00"/><line x1="252.65" y1="55.10" x2="254.95" y2="55.10"/><line x1="252.65" y1="62.00" x2="254.95" y2="62.00"/></g>
<g stroke="#d8343e" stroke-width="0.9"><line x1="260.50" y1="55.60" x2="260.50" y2="69.60"/><line x1="259.35" y1="55.60" x2="261.65" y2="55.60"/><line x1="259.35" y1="69.60" x2="261.65" y2="69.60"/></g>
<g stroke="#3a9ad0" stroke-width="0.9"><line x1="240.70" y1="61.40" x2="240.70" y2="72.00"/><line x1="239.55" y1="61.40" x2="241.85" y2="61.40"/><line x1="239.55" y1="72.00" x2="241.85" y2="72.00"/></g>
<g stroke="#d8343e" stroke-width="0.9"><line x1="273.90" y1="71.20" x2="273.90" y2="75.20"/><line x1="273.30" y1="71.20" x2="274.50" y2="71.20"/><line x1="273.30" y1="75.20" x2="274.50" y2="75.20"/></g>
<g stroke="#d8343e" stroke-width="0.9"><line x1="283.90" y1="72.20" x2="283.90" y2="76.20"/><line x1="283.30" y1="72.20" x2="284.50" y2="72.20"/><line x1="283.30" y1="76.20" x2="284.50" y2="76.20"/></g>
<g stroke="#3a9ad0" stroke-width="0.9"><line x1="217.20" y1="57.40" x2="217.20" y2="61.40"/><line x1="216.60" y1="57.40" x2="217.80" y2="57.40"/><line x1="216.60" y1="61.40" x2="217.80" y2="61.40"/></g>
<g stroke="#3a9ad0" stroke-width="0.9"><line x1="253.80" y1="68.40" x2="253.80" y2="72.40"/><line x1="253.20" y1="68.40" x2="254.40" y2="68.40"/><line x1="253.20" y1="72.40" x2="254.40" y2="72.40"/></g>
<g stroke="#3a9ad0" stroke-width="0.9"><line x1="260.50" y1="71.20" x2="260.50" y2="75.20"/><line x1="259.90" y1="71.20" x2="261.10" y2="71.20"/><line x1="259.90" y1="75.20" x2="261.10" y2="75.20"/></g>
<g stroke="#3a9ad0" stroke-width="0.9"><line x1="273.90" y1="71.50" x2="273.90" y2="75.50"/><line x1="273.30" y1="71.50" x2="274.50" y2="71.50"/><line x1="273.30" y1="75.50" x2="274.50" y2="75.50"/></g>
<g stroke="#3a9ad0" stroke-width="0.9"><line x1="283.90" y1="72.00" x2="283.90" y2="76.00"/><line x1="283.30" y1="72.00" x2="284.50" y2="72.00"/><line x1="283.30" y1="76.00" x2="284.50" y2="76.00"/></g>
<g stroke="#222222" stroke-width="0.9"><line x1="240.70" y1="69.20" x2="240.70" y2="73.20"/><line x1="240.10" y1="69.20" x2="241.30" y2="69.20"/><line x1="240.10" y1="73.20" x2="241.30" y2="73.20"/></g>
<g stroke="#222222" stroke-width="0.9"><line x1="253.80" y1="71.20" x2="253.80" y2="75.20"/><line x1="253.20" y1="71.20" x2="254.40" y2="71.20"/><line x1="253.20" y1="75.20" x2="254.40" y2="75.20"/></g>
<g stroke="#222222" stroke-width="0.9"><line x1="260.50" y1="71.20" x2="260.50" y2="75.20"/><line x1="259.90" y1="71.20" x2="261.10" y2="71.20"/><line x1="259.90" y1="75.20" x2="261.10" y2="75.20"/></g>
<g stroke="#222222" stroke-width="0.9"><line x1="273.90" y1="72.00" x2="273.90" y2="76.00"/><line x1="273.30" y1="72.00" x2="274.50" y2="72.00"/><line x1="273.30" y1="76.00" x2="274.50" y2="76.00"/></g>
<g stroke="#222222" stroke-width="0.9"><line x1="283.90" y1="72.00" x2="283.90" y2="76.00"/><line x1="283.30" y1="72.00" x2="284.50" y2="72.00"/><line x1="283.30" y1="76.00" x2="284.50" y2="76.00"/></g>
<text transform="translate(234.05,10.40) scale(0.98,0.95)" font-size="6.4" font-weight="bold" fill="#111" stroke="#111" stroke-width="0.3" text-anchor="middle">ADAC</text>
<path d="M178.00,97.90 L178.00,162.30 L290.10,162.30 L290.10,97.90" fill="#ffffff" stroke="#777777" stroke-width="1"/>
<rect x="178.00" y="84.30" width="112.10" height="13.60" fill="#dcdcdc" stroke="#9a9a9a" stroke-width="1"/>
<rect x="178.90" y="85.20" width="110.30" height="11.80" fill="none" stroke="#e8e8e8" stroke-width="0.7"/>
<line x1="175.70" y1="101.00" x2="178.00" y2="101.00" stroke="#777777" stroke-width="0.8"/>
<text transform="translate(173.90,102.90) scale(0.97,1.12)" font-size="6.1" font-weight="normal" fill="#222222" stroke="#222222" stroke-width="0.15" text-anchor="end">100</text>
<line x1="175.70" y1="115.10" x2="178.00" y2="115.10" stroke="#777777" stroke-width="0.8"/>
<text transform="translate(173.90,117.00) scale(0.97,1.12)" font-size="6.1" font-weight="normal" fill="#222222" stroke="#222222" stroke-width="0.15" text-anchor="end">75</text>
<line x1="175.70" y1="129.20" x2="178.00" y2="129.20" stroke="#777777" stroke-width="0.8"/>
<text transform="translate(173.90,131.10) scale(0.97,1.12)" font-size="6.1" font-weight="normal" fill="#222222" stroke="#222222" stroke-width="0.15" text-anchor="end">50</text>
<line x1="175.70" y1="143.30" x2="178.00" y2="143.30" stroke="#777777" stroke-width="0.8"/>
<text transform="translate(173.90,145.20) scale(0.97,1.12)" font-size="6.1" font-weight="normal" fill="#222222" stroke="#222222" stroke-width="0.15" text-anchor="end">25</text>
<line x1="175.70" y1="157.40" x2="178.00" y2="157.40" stroke="#777777" stroke-width="0.8"/>
<text transform="translate(173.90,159.30) scale(0.97,1.12)" font-size="6.1" font-weight="normal" fill="#222222" stroke="#222222" stroke-width="0.15" text-anchor="end">0</text>
<path d="M183.90,134.20 L185.59,134.58 L187.29,135.00 L188.98,135.45 L190.68,135.94 L192.37,136.47 L194.07,137.03 L195.76,137.63 L197.46,138.27 L199.15,138.94 L200.85,139.65 L202.54,140.38 L204.24,141.13 L205.93,141.91 L207.63,142.70 L209.32,143.49 L211.02,144.29 L212.71,145.09 L214.41,145.87 L216.10,146.64 L217.80,147.39 L219.49,148.11 L221.19,148.81 L222.88,149.47 L224.58,150.10 L226.27,150.69 L227.97,151.25 L229.66,151.77 L231.36,152.24 L233.05,152.69 L234.75,153.09 L236.44,153.47 L238.14,153.81 L239.83,154.12 L241.53,154.40 L243.22,154.65 L244.92,154.88 L246.61,155.09 L248.31,155.27 L250.00,155.44 L251.70,155.59 L253.39,155.72 L255.09,155.84 L256.78,155.95 L258.48,156.04 L260.17,156.13 L261.87,156.20 L263.56,156.27 L265.26,156.33 L266.95,156.38 L268.65,156.43 L270.34,156.47 L272.04,156.51 L273.73,156.54 L275.43,156.57 L277.12,156.59 L278.82,156.62 L280.51,156.64 L282.21,156.65 L283.90,156.67" stroke="#444444" stroke-width="1.15" stroke-dasharray="2.5 1.5" fill="none"/>
<path d="M183.90,128.37 L185.59,128.68 L187.29,129.00 L188.98,129.35 L190.68,129.72 L192.37,130.12 L194.07,130.55 L195.76,131.00 L197.46,131.48 L199.15,131.98 L200.85,132.51 L202.54,133.07 L204.24,133.66 L205.93,134.27 L207.63,134.91 L209.32,135.57 L211.02,136.25 L212.71,136.94 L214.41,137.66 L216.10,138.39 L217.80,139.13 L219.49,139.88 L221.19,140.63 L222.88,141.38 L224.58,142.13 L226.27,142.88 L227.97,143.62 L229.66,144.34 L231.36,145.06 L233.05,145.75 L234.75,146.43 L236.44,147.08 L238.14,147.71 L239.83,148.32 L241.53,148.90 L243.22,149.45 L244.92,149.98 L246.61,150.48 L248.31,150.95 L250.00,151.40 L251.70,151.82 L253.39,152.21 L255.09,152.58 L256.78,152.93 L258.48,153.25 L260.17,153.54 L261.87,153.82 L263.56,154.08 L265.26,154.32 L266.95,154.54 L268.65,154.74 L270.34,154.93 L272.04,155.10 L273.73,155.26 L275.43,155.40 L277.12,155.54 L278.82,155.66 L280.51,155.77 L282.21,155.88 L283.90,155.97" stroke="#4aaee0" stroke-width="1.15" stroke-opacity="0.85" fill="none"/>
<path d="M183.90,127.27 L185.59,127.32 L187.29,127.37 L188.98,127.44 L190.68,127.50 L192.37,127.57 L194.07,127.65 L195.76,127.73 L197.46,127.82 L199.15,127.91 L200.85,128.02 L202.54,128.13 L204.24,128.25 L205.93,128.37 L207.63,128.51 L209.32,128.66 L211.02,128.82 L212.71,128.98 L214.41,129.17 L216.10,129.36 L217.80,129.57 L219.49,129.79 L221.19,130.03 L222.88,130.29 L224.58,130.56 L226.27,130.85 L227.97,131.16 L229.66,131.49 L231.36,131.84 L233.05,132.22 L234.75,132.61 L236.44,133.03 L238.14,133.47 L239.83,133.94 L241.53,134.44 L243.22,134.96 L244.92,135.51 L246.61,136.09 L248.31,136.69 L250.00,137.32 L251.70,137.98 L253.39,138.67 L255.09,139.38 L256.78,140.12 L258.48,140.88 L260.17,141.67 L261.87,142.48 L263.56,143.32 L265.26,144.17 L266.95,145.04 L268.65,145.93 L270.34,146.83 L272.04,147.74 L273.73,148.66 L275.43,149.58 L277.12,150.51 L278.82,151.43 L280.51,152.36 L282.21,153.27 L283.90,154.18" stroke="#d4404a" stroke-width="1.2" stroke-dasharray="1.2 1.7" fill="none"/>
<circle cx="183.90" cy="127.00" r="2.3" fill="#925058" fill-opacity="0.8" stroke="#4a3a3c" stroke-width="0.7" stroke-opacity="0.85"/>
<circle cx="217.20" cy="132.10" r="2.3" fill="#925058" fill-opacity="0.8" stroke="#4a3a3c" stroke-width="0.7" stroke-opacity="0.85"/>
<circle cx="240.70" cy="134.10" r="2.3" fill="#925058" fill-opacity="0.8" stroke="#4a3a3c" stroke-width="0.7" stroke-opacity="0.85"/>
<circle cx="253.80" cy="141.90" r="2.3" fill="#925058" fill-opacity="0.8" stroke="#4a3a3c" stroke-width="0.7" stroke-opacity="0.85"/>
<circle cx="260.50" cy="142.70" r="2.3" fill="#925058" fill-opacity="0.8" stroke="#4a3a3c" stroke-width="0.7" stroke-opacity="0.85"/>
<circle cx="273.90" cy="153.90" r="2.3" fill="#925058" fill-opacity="0.8" stroke="#4a3a3c" stroke-width="0.7" stroke-opacity="0.85"/>
<circle cx="283.90" cy="156.70" r="2.3" fill="#925058" fill-opacity="0.8" stroke="#4a3a3c" stroke-width="0.7" stroke-opacity="0.85"/>
<circle cx="183.90" cy="127.00" r="2.3" fill="#4a84a8" fill-opacity="0.8" stroke="#283e4a" stroke-width="0.7" stroke-opacity="0.85"/>
<circle cx="217.20" cy="140.20" r="2.3" fill="#4a84a8" fill-opacity="0.8" stroke="#283e4a" stroke-width="0.7" stroke-opacity="0.85"/>
<circle cx="240.70" cy="148.50" r="2.3" fill="#4a84a8" fill-opacity="0.8" stroke="#283e4a" stroke-width="0.7" stroke-opacity="0.85"/>
<circle cx="253.80" cy="152.60" r="2.3" fill="#4a84a8" fill-opacity="0.8" stroke="#283e4a" stroke-width="0.7" stroke-opacity="0.85"/>
<circle cx="260.50" cy="152.90" r="2.3" fill="#4a84a8" fill-opacity="0.8" stroke="#283e4a" stroke-width="0.7" stroke-opacity="0.85"/>
<circle cx="273.90" cy="155.90" r="2.3" fill="#4a84a8" fill-opacity="0.8" stroke="#283e4a" stroke-width="0.7" stroke-opacity="0.85"/>
<circle cx="283.90" cy="156.70" r="2.3" fill="#4a84a8" fill-opacity="0.8" stroke="#283e4a" stroke-width="0.7" stroke-opacity="0.85"/>
<circle cx="183.90" cy="127.00" r="2.0" fill="#3e4a4e" fill-opacity="0.75" stroke="#1e2428" stroke-width="0.7" stroke-opacity="0.85"/>
<circle cx="217.20" cy="148.70" r="2.0" fill="#3e4a4e" fill-opacity="0.75" stroke="#1e2428" stroke-width="0.7" stroke-opacity="0.85"/>
<circle cx="240.70" cy="152.60" r="2.0" fill="#3e4a4e" fill-opacity="0.75" stroke="#1e2428" stroke-width="0.7" stroke-opacity="0.85"/>
<circle cx="253.80" cy="155.60" r="2.0" fill="#3e4a4e" fill-opacity="0.75" stroke="#1e2428" stroke-width="0.7" stroke-opacity="0.85"/>
<circle cx="260.50" cy="155.60" r="2.0" fill="#3e4a4e" fill-opacity="0.75" stroke="#1e2428" stroke-width="0.7" stroke-opacity="0.85"/>
<circle cx="273.90" cy="156.50" r="2.0" fill="#3e4a4e" fill-opacity="0.75" stroke="#1e2428" stroke-width="0.7" stroke-opacity="0.85"/>
<circle cx="283.90" cy="156.70" r="2.0" fill="#3e4a4e" fill-opacity="0.75" stroke="#1e2428" stroke-width="0.7" stroke-opacity="0.85"/>
<g stroke="#d8343e" stroke-width="0.9"><line x1="217.20" y1="125.90" x2="217.20" y2="137.00"/><line x1="216.05" y1="125.90" x2="218.35" y2="125.90"/><line x1="216.05" y1="137.00" x2="218.35" y2="137.00"/></g>
<g stroke="#222222" stroke-width="0.9"><line x1="217.20" y1="144.00" x2="217.20" y2="153.00"/><line x1="216.05" y1="144.00" x2="218.35" y2="144.00"/><line x1="216.05" y1="153.00" x2="218.35" y2="153.00"/></g>
<g stroke="#d8343e" stroke-width="0.9"><line x1="253.80" y1="134.10" x2="253.80" y2="148.50"/><line x1="252.65" y1="134.10" x2="254.95" y2="134.10"/><line x1="252.65" y1="148.50" x2="254.95" y2="148.50"/></g>
<g stroke="#3a9ad0" stroke-width="0.9"><line x1="240.70" y1="143.50" x2="240.70" y2="152.00"/><line x1="239.55" y1="143.50" x2="241.85" y2="143.50"/><line x1="239.55" y1="152.00" x2="241.85" y2="152.00"/></g>
<g stroke="#d8343e" stroke-width="0.9"><line x1="240.70" y1="131.00" x2="240.70" y2="137.00"/><line x1="239.55" y1="131.00" x2="241.85" y2="131.00"/><line x1="239.55" y1="137.00" x2="241.85" y2="137.00"/></g>
<g stroke="#d8343e" stroke-width="0.9"><line x1="260.50" y1="140.70" x2="260.50" y2="144.70"/><line x1="259.90" y1="140.70" x2="261.10" y2="140.70"/><line x1="259.90" y1="144.70" x2="261.10" y2="144.70"/></g>
<g stroke="#d8343e" stroke-width="0.9"><line x1="273.90" y1="151.90" x2="273.90" y2="155.90"/><line x1="273.30" y1="151.90" x2="274.50" y2="151.90"/><line x1="273.30" y1="155.90" x2="274.50" y2="155.90"/></g>
<g stroke="#d8343e" stroke-width="0.9"><line x1="283.90" y1="154.70" x2="283.90" y2="158.70"/><line x1="283.30" y1="154.70" x2="284.50" y2="154.70"/><line x1="283.30" y1="158.70" x2="284.50" y2="158.70"/></g>
<g stroke="#3a9ad0" stroke-width="0.9"><line x1="217.20" y1="138.20" x2="217.20" y2="142.20"/><line x1="216.60" y1="138.20" x2="217.80" y2="138.20"/><line x1="216.60" y1="142.20" x2="217.80" y2="142.20"/></g>
<g stroke="#3a9ad0" stroke-width="0.9"><line x1="253.80" y1="150.60" x2="253.80" y2="154.60"/><line x1="253.20" y1="150.60" x2="254.40" y2="150.60"/><line x1="253.20" y1="154.60" x2="254.40" y2="154.60"/></g>
<g stroke="#3a9ad0" stroke-width="0.9"><line x1="260.50" y1="150.90" x2="260.50" y2="154.90"/><line x1="259.90" y1="150.90" x2="261.10" y2="150.90"/><line x1="259.90" y1="154.90" x2="261.10" y2="154.90"/></g>
<g stroke="#3a9ad0" stroke-width="0.9"><line x1="273.90" y1="153.90" x2="273.90" y2="157.90"/><line x1="273.30" y1="153.90" x2="274.50" y2="153.90"/><line x1="273.30" y1="157.90" x2="274.50" y2="157.90"/></g>
<g stroke="#3a9ad0" stroke-width="0.9"><line x1="283.90" y1="154.70" x2="283.90" y2="158.70"/><line x1="283.30" y1="154.70" x2="284.50" y2="154.70"/><line x1="283.30" y1="158.70" x2="284.50" y2="158.70"/></g>
<g stroke="#222222" stroke-width="0.9"><line x1="240.70" y1="150.60" x2="240.70" y2="154.60"/><line x1="240.10" y1="150.60" x2="241.30" y2="150.60"/><line x1="240.10" y1="154.60" x2="241.30" y2="154.60"/></g>
<g stroke="#222222" stroke-width="0.9"><line x1="253.80" y1="153.60" x2="253.80" y2="157.60"/><line x1="253.20" y1="153.60" x2="254.40" y2="153.60"/><line x1="253.20" y1="157.60" x2="254.40" y2="157.60"/></g>
<g stroke="#222222" stroke-width="0.9"><line x1="260.50" y1="153.60" x2="260.50" y2="157.60"/><line x1="259.90" y1="153.60" x2="261.10" y2="153.60"/><line x1="259.90" y1="157.60" x2="261.10" y2="157.60"/></g>
<g stroke="#222222" stroke-width="0.9"><line x1="273.90" y1="154.50" x2="273.90" y2="158.50"/><line x1="273.30" y1="154.50" x2="274.50" y2="154.50"/><line x1="273.30" y1="158.50" x2="274.50" y2="158.50"/></g>
<g stroke="#222222" stroke-width="0.9"><line x1="283.90" y1="154.70" x2="283.90" y2="158.70"/><line x1="283.30" y1="154.70" x2="284.50" y2="154.70"/><line x1="283.30" y1="158.70" x2="284.50" y2="158.70"/></g>
<text transform="translate(234.05,92.80) scale(0.98,0.95)" font-size="6.4" font-weight="bold" fill="#111" stroke="#111" stroke-width="0.3" text-anchor="middle">DDAB</text>
<path d="M178.00,180.60 L178.00,245.00 L290.10,245.00 L290.10,180.60" fill="#ffffff" stroke="#777777" stroke-width="1"/>
<rect x="178.00" y="167.00" width="112.10" height="13.60" fill="#dcdcdc" stroke="#9a9a9a" stroke-width="1"/>
<rect x="178.90" y="167.90" width="110.30" height="11.80" fill="none" stroke="#e8e8e8" stroke-width="0.7"/>
<line x1="175.70" y1="183.70" x2="178.00" y2="183.70" stroke="#777777" stroke-width="0.8"/>
<text transform="translate(173.90,185.60) scale(0.97,1.12)" font-size="6.1" font-weight="normal" fill="#222222" stroke="#222222" stroke-width="0.15" text-anchor="end">100</text>
<line x1="175.70" y1="197.80" x2="178.00" y2="197.80" stroke="#777777" stroke-width="0.8"/>
<text transform="translate(173.90,199.70) scale(0.97,1.12)" font-size="6.1" font-weight="normal" fill="#222222" stroke="#222222" stroke-width="0.15" text-anchor="end">75</text>
<line x1="175.70" y1="211.90" x2="178.00" y2="211.90" stroke="#777777" stroke-width="0.8"/>
<text transform="translate(173.90,213.80) scale(0.97,1.12)" font-size="6.1" font-weight="normal" fill="#222222" stroke="#222222" stroke-width="0.15" text-anchor="end">50</text>
<line x1="175.70" y1="226.00" x2="178.00" y2="226.00" stroke="#777777" stroke-width="0.8"/>
<text transform="translate(173.90,227.90) scale(0.97,1.12)" font-size="6.1" font-weight="normal" fill="#222222" stroke="#222222" stroke-width="0.15" text-anchor="end">25</text>
<line x1="175.70" y1="240.10" x2="178.00" y2="240.10" stroke="#777777" stroke-width="0.8"/>
<text transform="translate(173.90,242.00) scale(0.97,1.12)" font-size="6.1" font-weight="normal" fill="#222222" stroke="#222222" stroke-width="0.15" text-anchor="end">0</text>
<path d="M183.90,219.13 L185.59,219.63 L187.29,220.17 L188.98,220.74 L190.68,221.35 L192.37,221.98 L194.07,222.64 L195.76,223.33 L197.46,224.04 L199.15,224.76 L200.85,225.50 L202.54,226.24 L204.24,226.99 L205.93,227.74 L207.63,228.48 L209.32,229.20 L211.02,229.91 L212.71,230.60 L214.41,231.27 L216.10,231.90 L217.80,232.51 L219.49,233.09 L221.19,233.63 L222.88,234.14 L224.58,234.61 L226.27,235.05 L227.97,235.46 L229.66,235.84 L231.36,236.19 L233.05,236.51 L234.75,236.80 L236.44,237.06 L238.14,237.30 L239.83,237.52 L241.53,237.72 L243.22,237.90 L244.92,238.06 L246.61,238.20 L248.31,238.33 L250.00,238.45 L251.70,238.55 L253.39,238.65 L255.09,238.73 L256.78,238.81 L258.48,238.88 L260.17,238.94 L261.87,238.99 L263.56,239.04 L265.26,239.08 L266.95,239.12 L268.65,239.16 L270.34,239.19 L272.04,239.21 L273.73,239.24 L275.43,239.26 L277.12,239.28 L278.82,239.30 L280.51,239.31 L282.21,239.32 L283.90,239.34" stroke="#444444" stroke-width="1.15" stroke-dasharray="2.5 1.5" fill="none"/>
<path d="M183.90,212.05 L185.59,212.43 L187.29,212.83 L188.98,213.27 L190.68,213.74 L192.37,214.24 L194.07,214.77 L195.76,215.33 L197.46,215.92 L199.15,216.54 L200.85,217.20 L202.54,217.88 L204.24,218.59 L205.93,219.32 L207.63,220.07 L209.32,220.84 L211.02,221.63 L212.71,222.42 L214.41,223.22 L216.10,224.02 L217.80,224.82 L219.49,225.61 L221.19,226.40 L222.88,227.16 L224.58,227.91 L226.27,228.64 L227.97,229.35 L229.66,230.03 L231.36,230.68 L233.05,231.30 L234.75,231.89 L236.44,232.45 L238.14,232.97 L239.83,233.47 L241.53,233.93 L243.22,234.36 L244.92,234.76 L246.61,235.14 L248.31,235.49 L250.00,235.81 L251.70,236.10 L253.39,236.37 L255.09,236.62 L256.78,236.85 L258.48,237.06 L260.17,237.26 L261.87,237.43 L263.56,237.59 L265.26,237.74 L266.95,237.87 L268.65,237.99 L270.34,238.10 L272.04,238.20 L273.73,238.29 L275.43,238.37 L277.12,238.45 L278.82,238.52 L280.51,238.58 L282.21,238.63 L283.90,238.68" stroke="#4aaee0" stroke-width="1.15" stroke-opacity="0.85" fill="none"/>
<path d="M183.90,209.86 L185.59,209.91 L187.29,209.97 L188.98,210.04 L190.68,210.11 L192.37,210.18 L194.07,210.27 L195.76,210.36 L197.46,210.47 L199.15,210.58 L200.85,210.70 L202.54,210.83 L204.24,210.97 L205.93,211.13 L207.63,211.30 L209.32,211.49 L211.02,211.69 L212.71,211.90 L214.41,212.14 L216.10,212.39 L217.80,212.67 L219.49,212.97 L221.19,213.29 L222.88,213.63 L224.58,214.00 L226.27,214.39 L227.97,214.81 L229.66,215.26 L231.36,215.74 L233.05,216.25 L234.75,216.78 L236.44,217.35 L238.14,217.94 L239.83,218.57 L241.53,219.22 L243.22,219.90 L244.92,220.60 L246.61,221.33 L248.31,222.08 L250.00,222.85 L251.70,223.64 L253.39,224.44 L255.09,225.25 L256.78,226.06 L258.48,226.88 L260.17,227.70 L261.87,228.52 L263.56,229.33 L265.26,230.12 L266.95,230.91 L268.65,231.67 L270.34,232.42 L272.04,233.15 L273.73,233.85 L275.43,234.52 L277.12,235.17 L278.82,235.79 L280.51,236.38 L282.21,236.95 L283.90,237.48" stroke="#d4404a" stroke-width="1.2" stroke-dasharray="1.2 1.7" fill="none"/>
<circle cx="183.90" cy="208.90" r="2.3" fill="#925058" fill-opacity="0.8" stroke="#4a3a3c" stroke-width="0.7" stroke-opacity="0.85"/>
<circle cx="217.20" cy="217.20" r="2.3" fill="#925058" fill-opacity="0.8" stroke="#4a3a3c" stroke-width="0.7" stroke-opacity="0.85"/>
<circle cx="240.70" cy="218.60" r="2.3" fill="#925058" fill-opacity="0.8" stroke="#4a3a3c" stroke-width="0.7" stroke-opacity="0.85"/>
<circle cx="253.80" cy="224.70" r="2.3" fill="#925058" fill-opacity="0.8" stroke="#4a3a3c" stroke-width="0.7" stroke-opacity="0.85"/>
<circle cx="260.50" cy="228.30" r="2.3" fill="#925058" fill-opacity="0.8" stroke="#4a3a3c" stroke-width="0.7" stroke-opacity="0.85"/>
<circle cx="273.90" cy="238.70" r="2.3" fill="#925058" fill-opacity="0.8" stroke="#4a3a3c" stroke-width="0.7" stroke-opacity="0.85"/>
<circle cx="283.90" cy="239.00" r="2.3" fill="#925058" fill-opacity="0.8" stroke="#4a3a3c" stroke-width="0.7" stroke-opacity="0.85"/>
<circle cx="183.90" cy="208.90" r="2.3" fill="#4a84a8" fill-opacity="0.8" stroke="#283e4a" stroke-width="0.7" stroke-opacity="0.85"/>
<circle cx="217.20" cy="226.10" r="2.3" fill="#4a84a8" fill-opacity="0.8" stroke="#283e4a" stroke-width="0.7" stroke-opacity="0.85"/>
<circle cx="240.70" cy="233.80" r="2.3" fill="#4a84a8" fill-opacity="0.8" stroke="#283e4a" stroke-width="0.7" stroke-opacity="0.85"/>
<circle cx="253.80" cy="235.90" r="2.3" fill="#4a84a8" fill-opacity="0.8" stroke="#283e4a" stroke-width="0.7" stroke-opacity="0.85"/>
<circle cx="260.50" cy="238.40" r="2.3" fill="#4a84a8" fill-opacity="0.8" stroke="#283e4a" stroke-width="0.7" stroke-opacity="0.85"/>
<circle cx="273.90" cy="239.30" r="2.3" fill="#4a84a8" fill-opacity="0.8" stroke="#283e4a" stroke-width="0.7" stroke-opacity="0.85"/>
<circle cx="283.90" cy="239.30" r="2.3" fill="#4a84a8" fill-opacity="0.8" stroke="#283e4a" stroke-width="0.7" stroke-opacity="0.85"/>
<circle cx="183.90" cy="208.90" r="2.0" fill="#3e4a4e" fill-opacity="0.75" stroke="#1e2428" stroke-width="0.7" stroke-opacity="0.85"/>
<circle cx="217.20" cy="233.40" r="2.0" fill="#3e4a4e" fill-opacity="0.75" stroke="#1e2428" stroke-width="0.7" stroke-opacity="0.85"/>
<circle cx="240.70" cy="237.10" r="2.0" fill="#3e4a4e" fill-opacity="0.75" stroke="#1e2428" stroke-width="0.7" stroke-opacity="0.85"/>
<circle cx="253.80" cy="238.00" r="2.0" fill="#3e4a4e" fill-opacity="0.75" stroke="#1e2428" stroke-width="0.7" stroke-opacity="0.85"/>
<circle cx="260.50" cy="238.40" r="2.0" fill="#3e4a4e" fill-opacity="0.75" stroke="#1e2428" stroke-width="0.7" stroke-opacity="0.85"/>
<circle cx="273.90" cy="239.30" r="2.0" fill="#3e4a4e" fill-opacity="0.75" stroke="#1e2428" stroke-width="0.7" stroke-opacity="0.85"/>
<circle cx="283.90" cy="239.50" r="2.0" fill="#3e4a4e" fill-opacity="0.75" stroke="#1e2428" stroke-width="0.7" stroke-opacity="0.85"/>
<g stroke="#d8343e" stroke-width="0.9"><line x1="217.20" y1="209.40" x2="217.20" y2="222.00"/><line x1="216.05" y1="209.40" x2="218.35" y2="209.40"/><line x1="216.05" y1="222.00" x2="218.35" y2="222.00"/></g>
<g stroke="#222222" stroke-width="0.9"><line x1="217.20" y1="229.00" x2="217.20" y2="239.50"/><line x1="216.05" y1="229.00" x2="218.35" y2="229.00"/><line x1="216.05" y1="239.50" x2="218.35" y2="239.50"/></g>
<g stroke="#d8343e" stroke-width="0.9"><line x1="240.70" y1="214.80" x2="240.70" y2="222.20"/><line x1="239.55" y1="214.80" x2="241.85" y2="214.80"/><line x1="239.55" y1="222.20" x2="241.85" y2="222.20"/></g>
<g stroke="#d8343e" stroke-width="0.9"><line x1="253.80" y1="221.00" x2="253.80" y2="228.80"/><line x1="252.65" y1="221.00" x2="254.95" y2="221.00"/><line x1="252.65" y1="228.80" x2="254.95" y2="228.80"/></g>
<g stroke="#d8343e" stroke-width="0.9"><line x1="260.50" y1="223.90" x2="260.50" y2="232.10"/><line x1="259.35" y1="223.90" x2="261.65" y2="223.90"/><line x1="259.35" y1="232.10" x2="261.65" y2="232.10"/></g>
<g stroke="#3a9ad0" stroke-width="0.9"><line x1="240.70" y1="227.20" x2="240.70" y2="238.00"/><line x1="239.55" y1="227.20" x2="241.85" y2="227.20"/><line x1="239.55" y1="238.00" x2="241.85" y2="238.00"/></g>
<g stroke="#d8343e" stroke-width="0.9"><line x1="273.90" y1="236.70" x2="273.90" y2="240.70"/><line x1="273.30" y1="236.70" x2="274.50" y2="236.70"/><line x1="273.30" y1="240.70" x2="274.50" y2="240.70"/></g>
<g stroke="#d8343e" stroke-width="0.9"><line x1="283.90" y1="237.00" x2="283.90" y2="241.00"/><line x1="283.30" y1="237.00" x2="284.50" y2="237.00"/><line x1="283.30" y1="241.00" x2="284.50" y2="241.00"/></g>
<g stroke="#3a9ad0" stroke-width="0.9"><line x1="217.20" y1="224.10" x2="217.20" y2="228.10"/><line x1="216.60" y1="224.10" x2="217.80" y2="224.10"/><line x1="216.60" y1="228.10" x2="217.80" y2="228.10"/></g>
<g stroke="#3a9ad0" stroke-width="0.9"><line x1="253.80" y1="233.90" x2="253.80" y2="237.90"/><line x1="253.20" y1="233.90" x2="254.40" y2="233.90"/><line x1="253.20" y1="237.90" x2="254.40" y2="237.90"/></g>
<g stroke="#3a9ad0" stroke-width="0.9"><line x1="260.50" y1="236.40" x2="260.50" y2="240.40"/><line x1="259.90" y1="236.40" x2="261.10" y2="236.40"/><line x1="259.90" y1="240.40" x2="261.10" y2="240.40"/></g>
<g stroke="#3a9ad0" stroke-width="0.9"><line x1="273.90" y1="237.30" x2="273.90" y2="241.30"/><line x1="273.30" y1="237.30" x2="274.50" y2="237.30"/><line x1="273.30" y1="241.30" x2="274.50" y2="241.30"/></g>
<g stroke="#3a9ad0" stroke-width="0.9"><line x1="283.90" y1="237.30" x2="283.90" y2="241.30"/><line x1="283.30" y1="237.30" x2="284.50" y2="237.30"/><line x1="283.30" y1="241.30" x2="284.50" y2="241.30"/></g>
<g stroke="#222222" stroke-width="0.9"><line x1="240.70" y1="235.10" x2="240.70" y2="239.10"/><line x1="240.10" y1="235.10" x2="241.30" y2="235.10"/><line x1="240.10" y1="239.10" x2="241.30" y2="239.10"/></g>
<g stroke="#222222" stroke-width="0.9"><line x1="253.80" y1="236.00" x2="253.80" y2="240.00"/><line x1="253.20" y1="236.00" x2="254.40" y2="236.00"/><line x1="253.20" y1="240.00" x2="254.40" y2="240.00"/></g>
<g stroke="#222222" stroke-width="0.9"><line x1="260.50" y1="236.40" x2="260.50" y2="240.40"/><line x1="259.90" y1="236.40" x2="261.10" y2="236.40"/><line x1="259.90" y1="240.40" x2="261.10" y2="240.40"/></g>
<g stroke="#222222" stroke-width="0.9"><line x1="273.90" y1="237.30" x2="273.90" y2="241.30"/><line x1="273.30" y1="237.30" x2="274.50" y2="237.30"/><line x1="273.30" y1="241.30" x2="274.50" y2="241.30"/></g>
<g stroke="#222222" stroke-width="0.9"><line x1="283.90" y1="237.50" x2="283.90" y2="241.50"/><line x1="283.30" y1="237.50" x2="284.50" y2="237.50"/><line x1="283.30" y1="241.50" x2="284.50" y2="241.50"/></g>
<text transform="translate(234.05,175.20) scale(0.98,0.95)" font-size="6.4" font-weight="bold" fill="#111" stroke="#111" stroke-width="0.3" text-anchor="middle">DDAC</text>
<line x1="32.40" y1="245.50" x2="32.40" y2="247.80" stroke="#333333" stroke-width="0.8"/>
<text transform="translate(32.40,255.90) scale(1,1.22)" font-size="7.8" fill="#333" text-anchor="middle">0</text>
<line x1="65.00" y1="245.50" x2="65.00" y2="247.80" stroke="#333333" stroke-width="0.8"/>
<text transform="translate(65.00,255.90) scale(1,1.22)" font-size="7.8" fill="#333" text-anchor="middle">0.01</text>
<line x1="97.50" y1="245.50" x2="97.50" y2="247.80" stroke="#333333" stroke-width="0.8"/>
<text transform="translate(97.50,255.90) scale(1,1.22)" font-size="7.8" fill="#333" text-anchor="middle">0.1</text>
<line x1="130.00" y1="245.50" x2="130.00" y2="247.80" stroke="#333333" stroke-width="0.8"/>
<text transform="translate(130.00,255.90) scale(1,1.22)" font-size="7.8" fill="#333" text-anchor="middle">1</text>
<line x1="183.90" y1="245.00" x2="183.90" y2="247.30" stroke="#777777" stroke-width="0.8"/>
<text transform="translate(183.90,255.40) scale(1,1.22)" font-size="7.8" fill="#333" text-anchor="middle">0</text>
<line x1="217.20" y1="245.00" x2="217.20" y2="247.30" stroke="#777777" stroke-width="0.8"/>
<text transform="translate(217.20,255.40) scale(1,1.22)" font-size="7.8" fill="#333" text-anchor="middle">0.01</text>
<line x1="250.50" y1="245.00" x2="250.50" y2="247.30" stroke="#777777" stroke-width="0.8"/>
<text transform="translate(250.50,255.40) scale(1,1.22)" font-size="7.8" fill="#333" text-anchor="middle">0.1</text>
<line x1="283.90" y1="245.00" x2="283.90" y2="247.30" stroke="#777777" stroke-width="0.8"/>
<text transform="translate(283.90,255.40) scale(1,1.22)" font-size="7.8" fill="#333" text-anchor="middle">1</text>
<text transform="translate(7.1,130.65) rotate(-90)" font-size="7.2" font-weight="bold" fill="#1a1a1a" text-anchor="middle" textLength="153.9" lengthAdjust="spacingAndGlyphs">Branched broomrape seeds germination (%)</text>
<text transform="translate(156.6,130.2) rotate(-90)" font-size="7.0" font-weight="bold" fill="#1a1a1a" text-anchor="middle" textLength="151.2" lengthAdjust="spacingAndGlyphs">Egyptian broomrape seeds germination (%)</text>
<text x="155.35" y="269.9" font-size="9.4" font-weight="bold" fill="#111" stroke="#111" stroke-width="0.12" text-anchor="middle" textLength="97.9" lengthAdjust="spacingAndGlyphs">Concenteration (%)[log]</text>
<circle cx="147.5" cy="104.2" r="0.5" fill="#777"/>
<text transform="translate(309.7,104.0) scale(1,1.18)" font-size="6.6" fill="#1a1a1a" stroke="#1a1a1a" stroke-width="0.15" textLength="29.3" lengthAdjust="spacing">Exposure</text>
<text transform="translate(308.9,111.6) scale(1,1.18)" font-size="6.6" fill="#1a1a1a" stroke="#1a1a1a" stroke-width="0.15" textLength="30.8" lengthAdjust="spacing">durations</text>
<line x1="303.1" y1="128.1" x2="313.6" y2="128.1" stroke="#e06a78" stroke-width="1.1" stroke-dasharray="1.4 1.6"/>
<line x1="303.1" y1="138.3" x2="313.6" y2="138.3" stroke="#45aee0" stroke-width="1.0"/>
<line x1="303.1" y1="149.7" x2="313.6" y2="149.7" stroke="#333" stroke-width="1.0" stroke-dasharray="2.4 1.8"/>
<text x="317.5" y="129.7" font-size="6.6" fill="#111" stroke="#111" stroke-width="0.12" textLength="30.3" lengthAdjust="spacingAndGlyphs">10 minutes</text>
<text x="318.6" y="140.0" font-size="6.6" fill="#111" stroke="#111" stroke-width="0.12" textLength="18.2" lengthAdjust="spacingAndGlyphs">1 hour</text>
<text x="318.8" y="151.7" font-size="6.6" fill="#111" stroke="#111" stroke-width="0.12" textLength="24.7" lengthAdjust="spacingAndGlyphs">24 hours</text>
</svg>
</body></html>
